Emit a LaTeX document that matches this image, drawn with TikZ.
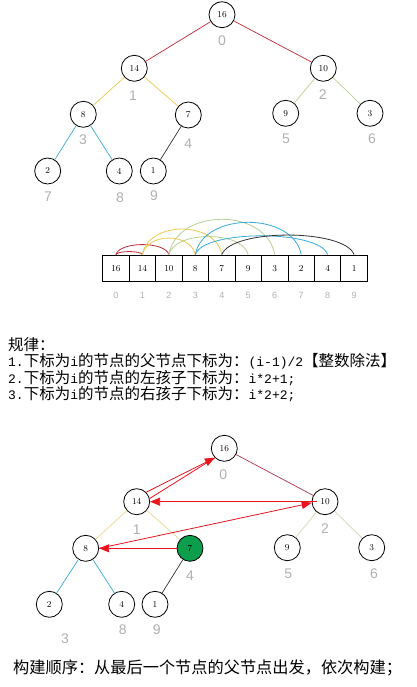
\documentclass[tikz,border=0pt]{standalone}
\usepackage{fontspec}
\newfontfamily\cjk{Noto Sans CJK SC}
\newfontfamily\labfont{Liberation Sans}
\newfontfamily\latfont{Liberation Mono}
\usetikzlibrary{arrows.meta}
\definecolor{ered}{RGB}{192,40,56}
\definecolor{eyel}{RGB}{240,200,80}
\definecolor{egrn}{RGB}{184,208,144}
\definecolor{eblu}{RGB}{56,172,216}
\definecolor{eblk}{RGB}{50,50,50}
\definecolor{byel}{RGB}{240,216,140}
\definecolor{bgrn}{RGB}{210,216,176}
\definecolor{bred}{RGB}{168,56,72}
\definecolor{lgray}{RGB}{176,176,176}
\definecolor{nodegreen}{RGB}{12,158,76}
\definecolor{arrred}{RGB}{235,20,30}
\newcommand\latpart[1]{{\latfont\fontsize{13}{16}\selectfont #1}}
\begin{document}
\begin{tikzpicture}[x=1pt,y=-1pt,
 tn/.style={circle,draw,line width=0.8pt,minimum size=26pt,inner sep=0pt,font=\fontsize{9}{9}\selectfont},
 idx/.style={text=lgray,font=\labfont\fontsize{14}{14}\selectfont,inner sep=0pt},
 cell/.style={draw,line width=0.8pt,minimum width=26.46pt,minimum height=26.7pt,inner sep=0pt,font=\fontsize{9}{9}\selectfont},
 aidx/.style={text=lgray,font=\labfont\fontsize{9}{9}\selectfont,inner sep=0pt},
 txt/.style={anchor=west,inner sep=0pt,font=\cjk\fontsize{15.5}{16}\selectfont},
 btxt/.style={anchor=west,inner sep=0pt,font=\cjk\fontsize{16.2}{17}\selectfont},
 ed/.style={line width=0.7pt},
 arc/.style={line width=0.8pt},
 rarr/.style={draw=arrred,line width=0.8pt,-{Triangle[length=10pt,width=8pt]}},
 rline/.style={draw=arrred,line width=0.8pt}
]
\useasboundingbox (0,0) rectangle (416,687);
\fill[white] (0,0) rectangle (416,687);

% ---------- top tree ----------
\node[tn] (t16) at (222,14.7) {16};
\node[tn] (t14) at (134.3,68.3) {14};
\node[tn] (t10) at (323.3,68.3) {10};
\node[tn] (t8) at (83.3,114.3) {8};
\node[tn] (t7) at (188.3,115) {7};
\node[tn] (t9) at (285.7,113.3) {9};
\node[tn] (t3) at (370,113.3) {3};
\node[tn] (t2) at (47.7,171) {2};
\node[tn] (t4) at (119.3,171) {4};
\node[tn] (t1) at (153.3,171) {1};
\node[idx] (ti0) at (222,40.7) {0};
\node[idx] (ti1) at (133,95.7) {1};
\node[idx] (ti2) at (322.7,95) {2};
\node[idx] (ti3) at (83,140) {3};
\node[idx] (ti4) at (188.3,143.3) {4};
\node[idx] (ti5) at (286,139) {5};
\node[idx] (ti6) at (372,139) {6};
\node[idx] (ti7) at (48,197) {7};
\node[idx] (ti8) at (120,198) {8};
\node[idx] (ti9) at (154,196) {9};
\draw[ed,ered] (t16) -- (t14);
\draw[ed,ered] (t16) -- (t10);
\draw[ed,eyel] (t14) -- (t8);
\draw[ed,eyel] (t14) -- (t7);
\draw[ed,egrn] (t10) -- (t9);
\draw[ed,egrn] (t10) -- (t3);
\draw[ed,eblu] (t8) -- (t2);
\draw[ed,eblu] (t8) -- (t4);
\draw[ed,eblk] (t7) -- (t1);

% ---------- array ----------
\node[cell] (c0) at (115.9,268.3) {16};
\node[cell] (c1) at (142.4,268.3) {14};
\node[cell] (c2) at (168.9,268.3) {10};
\node[cell] (c3) at (195.3,268.3) {8};
\node[cell] (c4) at (221.8,268.3) {7};
\node[cell] (c5) at (248.2,268.3) {9};
\node[cell] (c6) at (274.7,268.3) {3};
\node[cell] (c7) at (301.2,268.3) {2};
\node[cell] (c8) at (327.6,268.3) {4};
\node[cell] (c9) at (354.1,268.3) {1};
\foreach \i/\x in {0/115.9,1/142.4,2/168.9,3/195.3,4/221.8,5/248.2,6/274.7,7/301.2,8/327.6,9/354.1}
  \node[aidx] (a\i) at (\x,295) {\i};
\draw[arc,ered] (c0.north) .. controls +(2,-4) and +(-2,-4) .. (c1.north);
\draw[arc,ered] (c0.north) .. controls +(4,-13.3) and +(-4,-13.3) .. (c2.north);
\draw[arc,eyel] (c1.north) .. controls +(5,-22) and +(-5,-22) .. (c3.north);
\draw[arc,eyel] (c1.north) .. controls +(6,-34) and +(-6,-34) .. (c4.north);
\draw[arc,egrn] (c2.north) .. controls +(6,-24) and +(-6,-24) .. (c5.north);
\draw[arc,egrn] (c2.north) .. controls +(8,-47) and +(-8,-47) .. (c6.north);
\draw[arc,eblu] (c3.north) .. controls +(8,-43) and +(-8,-43) .. (c7.north);
\draw[arc,eblu] (c3.north) .. controls +(8,-25) and +(-8,-25) .. (c8.north);
\draw[arc,eblk] (c4.north) .. controls +(10,-26) and +(-10,-26) .. (c9.north);

% ---------- rules text ----------
\node[txt] (l0) at (8,345) {规律：};
\node[txt] (l1) at (8,361.7) {\latpart{1.}下标为\latpart{i}的节点的父节点下标为：\latpart{(i-1)/2}【整数除法】};
\node[txt] (l2) at (8,377.8) {\latpart{2.}下标为\latpart{i}的节点的左孩子下标为：\latpart{i*2+1;}};
\node[txt] (l3) at (8,394) {\latpart{3.}下标为\latpart{i}的节点的右孩子下标为：\latpart{i*2+2;}};

% ---------- bottom tree ----------
\node[tn] (b16) at (224.3,448.3) {16};
\node[tn] (b14) at (136.7,501.7) {14};
\node[tn] (b10) at (325,501.7) {10};
\node[tn] (b8) at (85.7,548.3) {8};
\node[tn,fill=nodegreen] (b7) at (190,548.3) {7};
\node[tn] (b9) at (287.3,547.7) {9};
\node[tn] (b3) at (371.7,547.7) {3};
\node[tn] (b2) at (49.3,604.3) {2};
\node[tn] (b4) at (121.7,604.3) {4};
\node[tn] (b1) at (155,604.3) {1};
\node[idx] (bi0) at (223.3,474.3) {0};
\node[idx] (bi1) at (136.7,529.3) {1};
\node[idx] (bi2) at (325,528.3) {2};
\node[idx] (bi3) at (65,638.3) {3};
\node[idx] (bi4) at (190,576) {4};
\node[idx] (bi5) at (288.3,573.3) {5};
\node[idx] (bi6) at (374,573.3) {6};
\node[idx] (bi8) at (122.7,630) {8};
\node[idx] (bi9) at (156.7,629.3) {9};
\draw[ed,bred] (b16) -- (b10);
\draw[ed,byel] (b14) -- (b8);
\draw[ed,byel] (b14) -- (b7);
\draw[ed,bgrn] (b10) -- (b9);
\draw[ed,bgrn] (b10) -- (b3);
\draw[ed,eblu] (b8) -- (b2);
\draw[ed,eblu] (b8) -- (b4);
\draw[ed,eblk] (b7) -- (b1);
\draw[rarr] (b7) -- (b8);
\draw[rarr] (b8.east) -- (b10.185);
\draw[rarr] ([xshift=5pt]b10.west) -- (b14.east);
\draw[rarr] (b14.45) -- (b16.225);
\draw[rline] (b14.14) -- (b16.225);

\node[btxt] (bt) at (13,668.3) {构建顺序：从最后一个节点的父节点出发，依次构建；};
\end{tikzpicture}
\end{document}
